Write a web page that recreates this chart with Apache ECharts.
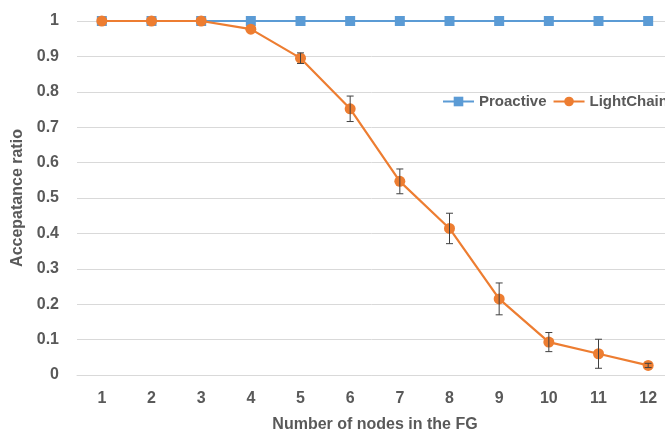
<!DOCTYPE html>
<html>
<head>
<meta charset="utf-8">
<script src="https://cdn.jsdelivr.net/npm/echarts@6/dist/echarts.min.js"></script>
<style>html,body{margin:0;padding:0;background:#fff;}#c{width:665px;height:434px;}</style>
</head>
<body>
<div id="c"></div>
<script>
var categories = ['1','2','3','4','5','6','7','8','9','10','11','12'];
var proactive = [1,1,1,1,1,1,1,1,1,1,1,1];
var lightchain = [1,1,1,0.977,0.895,0.752,0.547,0.414,0.215,0.093,0.06,0.027];
var lightchainErr = [0,0,0,0,0.015,0.036,0.035,0.043,0.045,0.027,0.041,0.006];

var errData = lightchain.map(function(v,i){ return [i, v - lightchainErr[i], v + lightchainErr[i]]; })
  .filter(function(d){ return d[2] - d[1] > 0; });

var txt = '#595959';
var font = '"Liberation Sans", Arial, sans-serif';
var chart = echarts.init(document.getElementById('c'));
chart.setOption({
  animation: false,
  backgroundColor: '#fff',
  grid: {left: 77, width: 596, top: 21, height: 354, containLabel: false, outerBoundsMode: 'none'},
  legend: {
    orient: 'horizontal', left: 442, top: 94, width: 400, padding: 0, itemWidth: 31, itemHeight: 12, itemGap: 6,
    textStyle: {color: txt, fontSize: 15, fontWeight: 'bold', fontFamily: font},
    data: ['Proactive','LightChain']
  },
  xAxis: {
    type: 'category', data: categories, boundaryGap: true,
    name: 'Number of nodes in the FG', nameLocation: 'middle', nameGap: 42,
    nameTextStyle: {color: txt, fontSize: 16, fontWeight: 'bold', fontFamily: font},
    axisLine: {show: true, lineStyle: {color: '#d9d9d9', width: 1}},
    axisTick: {show: false},
    axisLabel: {color: txt, fontSize: 16, fontWeight: 'bold', fontFamily: font, margin: 16}
  },
  yAxis: {
    type: 'value', min: 0, max: 1, interval: 0.1,
    name: 'Accepatance ratio', nameLocation: 'middle', nameGap: 49, nameRotate: 90,
    nameTextStyle: {color: txt, fontSize: 16, fontWeight: 'bold', fontFamily: font},
    axisLine: {show: false}, axisTick: {show: false},
    splitLine: {lineStyle: {color: '#d9d9d9', width: 1}},
    axisLabel: {color: txt, fontSize: 16, fontWeight: 'bold', fontFamily: font, margin: 18,
      formatter: function(v){ return String(+v.toFixed(1)); }}
  },
  series: [
    {name: 'Proactive', type: 'line', data: proactive, symbol: 'rect', symbolSize: 10,
      itemStyle: {color: '#5B9BD5'}, lineStyle: {color: '#5B9BD5', width: 2.2}, z: 2},
    {name: 'LightChain', type: 'line', data: lightchain, symbol: 'circle', symbolSize: 11,
      itemStyle: {color: '#ED7D31'}, lineStyle: {color: '#ED7D31', width: 2.2}, z: 3},
    {name: 'err', type: 'custom', data: errData, z: 4, silent: true,
      encode: {x: 0, y: [1, 2]},
      renderItem: function(params, api){
        var x = api.value(0);
        var lo = api.coord([x, api.value(1)]);
        var hi = api.coord([x, api.value(2)]);
        var w = 3.5;
        var st = {stroke: '#404040', lineWidth: 1};
        return {type: 'group', children: [
          {type: 'line', shape: {x1: lo[0], y1: lo[1], x2: hi[0], y2: hi[1]}, style: st},
          {type: 'line', shape: {x1: lo[0]-w, y1: lo[1], x2: lo[0]+w, y2: lo[1]}, style: st},
          {type: 'line', shape: {x1: hi[0]-w, y1: hi[1], x2: hi[0]+w, y2: hi[1]}, style: st}
        ]};
      }}
  ]
});
</script>
</body>
</html>
